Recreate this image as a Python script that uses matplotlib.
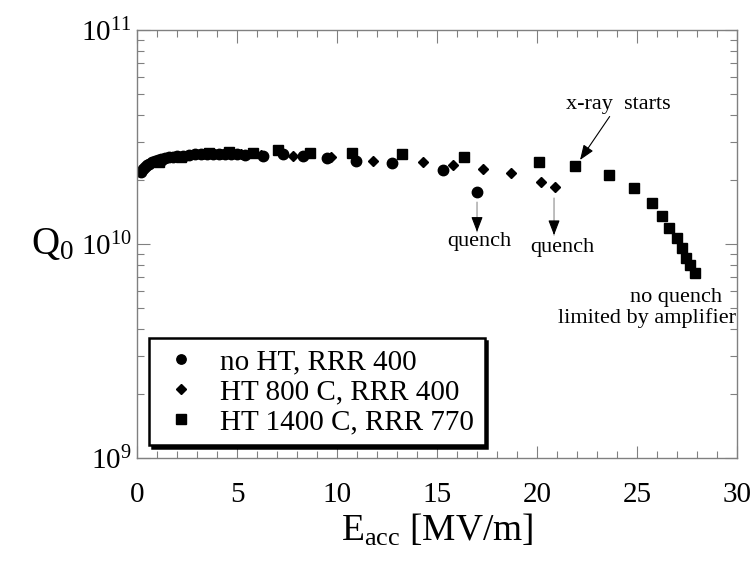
import matplotlib
matplotlib.use("Agg")
import matplotlib.pyplot as plt
from matplotlib.ticker import MultipleLocator, LogLocator, LogFormatterSciNotation, NullFormatter

plt.rcParams['font.family'] = ['Liberation Serif', 'DejaVu Serif']
plt.rcParams['mathtext.fontset'] = 'custom'
plt.rcParams['mathtext.rm'] = 'Liberation Serif'
plt.rcParams['mathtext.it'] = 'Liberation Serif:italic'

# no HT, RRR 400 (circles)
e_noht = [0.2, 0.3, 0.4, 0.5, 0.6, 0.75, 0.9, 1.05, 1.2, 1.4, 1.6, 1.8, 2.0, 2.3, 2.6,
          2.9, 3.2, 3.5, 3.8, 4.1, 4.4, 4.7, 5.0, 5.4, 6.3, 7.3, 8.3, 9.5, 10.95, 12.75,
          15.3, 17.0]
q_noht = [2.18, 2.24, 2.29, 2.33, 2.37, 2.41, 2.44, 2.47, 2.50, 2.52, 2.54, 2.56, 2.58, 2.59, 2.60,
          2.62, 2.62, 2.63, 2.64, 2.64, 2.64, 2.63, 2.62, 2.60, 2.58, 2.62, 2.58, 2.52, 2.45, 2.40,
          2.22, 1.75]

# HT 800 C, RRR 400 (diamonds)
e_ht800 = [1.3, 2.4, 3.3, 4.2, 5.2, 6.2, 7.8, 9.7, 11.8, 14.3, 15.8, 17.3, 18.7, 20.2, 20.9]
q_ht800 = [2.45, 2.56, 2.62, 2.64, 2.62, 2.60, 2.58, 2.55, 2.45, 2.42, 2.34, 2.25, 2.15, 1.95, 1.85]

# HT 1400 C, RRR 770 (squares)
e_ht1400 = [1.1, 2.2, 3.6, 4.6, 5.8, 7.05, 8.65, 10.75, 13.25, 16.35, 20.1, 21.9, 23.6, 24.85,
            25.75, 26.25, 26.6, 27.0, 27.25, 27.45, 27.65, 27.9]
q_ht1400 = [2.42, 2.55, 2.65, 2.68, 2.66, 2.75, 2.66, 2.66, 2.62, 2.56, 2.42, 2.31, 2.10, 1.83,
            1.56, 1.35, 1.19, 1.07, 0.96, 0.86, 0.80, 0.73]

labels = ["no HT, RRR 400", "HT 800 C, RRR 400", "HT 1400 C, RRR 770"]

fig = plt.figure(figsize=(7.54, 5.61), dpi=100)
ax = fig.add_axes([0.1817, 0.1836, 0.7958, 0.7629])

ax.plot(e_noht, [q * 1e10 for q in q_noht], 'o', color='k', ms=7.5, label=labels[0])
ax.plot(e_ht800, [q * 1e10 for q in q_ht800], 'D', color='k', ms=5.5, label=labels[1])
ax.plot(e_ht1400, [q * 1e10 for q in q_ht1400], 's', color='k', ms=7.5, label=labels[2])

ax.set_yscale('log')
ax.set_xlim(0, 30)
ax.set_ylim(1e9, 1e11)
ax.xaxis.set_major_locator(MultipleLocator(5))
ax.xaxis.set_minor_locator(MultipleLocator(1))
ax.yaxis.set_major_locator(LogLocator(base=10))
ax.yaxis.set_minor_locator(LogLocator(base=10, subs=range(2, 10)))
ax.yaxis.set_major_formatter(LogFormatterSciNotation())
ax.yaxis.set_minor_formatter(NullFormatter())

for s in ax.spines.values():
    s.set_color('#808080')
    s.set_linewidth(1.0)
ax.tick_params(which='both', direction='in', top=True, right=True, color='#808080',
               labelsize=21, width=0.8)
ax.tick_params(which='major', length=9)
ax.tick_params(which='minor', length=5)
ax.tick_params(axis='x', which='major', pad=17)
ax.tick_params(axis='y', which='major', pad=4)

ax.set_xlabel(r'E$_{\mathrm{acc}}$ [MV/m]', fontsize=27, labelpad=3)
ax.set_ylabel(r'Q$_0$', fontsize=28, rotation=0, labelpad=20, va='center')

# arrows: gray shaft + black head
head = dict(arrowstyle='-|>,head_length=0.65,head_width=0.25', color='k', lw=0.8,
            mutation_scale=14, shrinkA=0, shrinkB=0)
shaft = dict(arrowstyle='-', color='0.55', lw=0.8, shrinkA=0, shrinkB=0)

ax.annotate('x-ray  starts', xy=(22.15, 2.47e10), xytext=(24.05, 4.5e10),
            fontsize=16, ha='center', va='center',
            arrowprops=dict(head, color='k'))

ax.annotate('', xy=(17.0, 1.14e10), xytext=(17.0, 1.57e10), arrowprops=shaft)
ax.annotate('', xy=(17.0, 1.14e10), xytext=(17.0, 1.30e10), arrowprops=head)
ax.text(17.1, 1.03e10, 'quench', fontsize=16, ha='center', va='center')

ax.annotate('', xy=(20.85, 1.10e10), xytext=(20.85, 1.64e10), arrowprops=shaft)
ax.annotate('', xy=(20.85, 1.10e10), xytext=(20.85, 1.26e10), arrowprops=head)
ax.text(21.25, 9.6e9, 'quench', fontsize=16, ha='center', va='center')

ax.text(29.25, 5.6e9, 'no quench', fontsize=16, ha='right', va='center')
ax.text(29.95, 4.5e9, 'limited by amplifier', fontsize=16, ha='right', va='center')

leg = ax.legend(loc='lower left', bbox_to_anchor=(0.02, 0.03), borderaxespad=0,
                fontsize=21, frameon=True, fancybox=False,
                shadow={'color': 'k', 'alpha': 1}, edgecolor='k',
                labelspacing=0.12, handletextpad=0.6, handlelength=1.5,
                borderpad=0.35, markerscale=0.9)
leg.get_frame().set_linewidth(1.8)

fig.savefig('out.png', dpi=100)
